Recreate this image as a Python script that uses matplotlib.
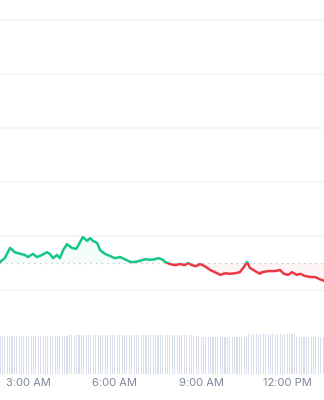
import numpy as np
import matplotlib.pyplot as plt
from matplotlib.patches import Rectangle

# price line (time of day, price)
times = ["02:00", "02:10", "02:21", "02:31", "02:42", "02:52", "02:58", "03:09",
         "03:17", "03:28", "03:38", "03:44", "03:51", "03:59", "04:05", "04:12",
         "04:20", "04:30", "04:39", "04:45", "04:53", "05:02", "05:08", "05:14",
         "05:23", "05:29", "05:39", "05:50", "06:00", "06:11", "06:21", "06:32",
         "06:42", "06:52", "07:03", "07:13", "07:24", "07:30", "07:38", "07:45",
         "07:55", "08:06", "08:16", "08:26", "08:33", "08:41", "08:49", "08:58",
         "09:08", "09:19", "09:29", "09:40", "09:50", "10:00", "10:11", "10:21",
         "10:30", "10:36", "10:42", "10:53", "11:03", "11:07", "11:20", "11:34",
         "11:45", "11:53", "12:02", "12:10", "12:20", "12:27", "12:37", "12:48",
         "12:58", "13:08", "13:17"]
prices = [0.9752, 0.9759, 0.9778, 0.9770, 0.9767, 0.9765, 0.9761, 0.9767,
          0.9761, 0.9765, 0.9770, 0.9767, 0.9759, 0.9765, 0.9759, 0.9774,
          0.9785, 0.9778, 0.9776, 0.9785, 0.9798, 0.9791, 0.9796, 0.9791,
          0.9787, 0.9774, 0.9767, 0.9763, 0.9759, 0.9761, 0.9757, 0.9752,
          0.9752, 0.9754, 0.9757, 0.9756, 0.9757, 0.9759, 0.9757, 0.9752,
          0.9748, 0.9746, 0.9748, 0.9746, 0.9750, 0.9746, 0.9744, 0.9748,
          0.9744, 0.9737, 0.9733, 0.9728, 0.9731, 0.9730, 0.9731, 0.9733,
          0.9743, 0.9752, 0.9741, 0.9735, 0.9730, 0.9733, 0.9735, 0.9735,
          0.9737, 0.9730, 0.9728, 0.9733, 0.9728, 0.9730, 0.9726, 0.9724,
          0.9724, 0.9720, 0.9717]
open_price = 0.9750

# volume, one bar every 5 minutes from 02:00
volume = [95, 94, 95, 96, 95, 94, 95, 95, 96, 95, 94, 95, 96, 96, 95, 95, 94, 95,
          96, 95, 95, 96, 95, 94, 95, 96, 96, 95, 95,
          97, 97, 98, 97, 97, 98, 97, 97, 97, 98, 98, 97, 97, 98, 97, 97, 98, 97,
          97, 98, 98, 97, 97, 97, 98, 97, 98, 97, 97, 98, 97, 97, 98, 97, 97, 98,
          98, 97, 97, 98, 97, 97, 97, 98, 97, 97, 98, 97, 97, 98, 97, 97, 96, 96, 95,
          93, 92, 92, 93, 92, 92, 92, 93, 92, 92, 92, 93, 92, 92, 92, 93, 92, 92, 93, 94,
          99, 99, 99, 100, 99, 99, 99, 99, 100, 99, 99, 99, 99, 100, 99, 99, 99, 99, 99, 99,
          93, 93, 92, 92, 93, 92, 92, 92, 93, 92, 92, 92]

tick_hours = [3, 6, 9, 12]
tick_labels = ["3:00 AM", "6:00 AM", "9:00 AM", "12:00 PM"]
grid_prices = [0.97, 0.98, 0.99, 1.00, 1.01, 1.02]

GREEN = "#16c784"
RED = "#ea3943"


def to_hours(s):
    h, m = s.split(":")
    return int(h) + int(m) / 60


x = np.array([to_hours(t) for t in times])
y = np.array(prices)
xv = 2 + np.arange(len(volume)) * 5 / 60

fig = plt.figure(figsize=(3.24, 4.0), dpi=100)

# price panel
ax = fig.add_axes([0, 0.25, 1, 0.75])
ax.set_xlim(2.0, 13.28)
ax.set_ylim(0.968148, 1.02371)
for g in grid_prices:
    ax.axhline(g, color="#f5f5f6", lw=1.3, zorder=0)
ax.axhline(open_price, color="#b9c0cc", lw=0.9, ls=(0, (1, 3.5)), zorder=1)

ax.fill_between(x, y, open_price, where=y >= open_price, interpolate=True,
                color=GREEN, alpha=0.05, lw=0)
ax.fill_between(x, y, open_price, where=y <= open_price, interpolate=True,
                color=RED, alpha=0.05, lw=0)

up, = ax.plot(x, y, color=GREEN, lw=1.8, zorder=3, solid_joinstyle="round")
dn, = ax.plot(x, y, color=RED, lw=1.8, zorder=3, solid_joinstyle="round")
up.set_clip_path(Rectangle((0, open_price), 30, 1, transform=ax.transData))
dn.set_clip_path(Rectangle((0, open_price - 1), 30, 1, transform=ax.transData))
ax.axis("off")

# volume panel
axv = fig.add_axes([0, 0.065, 1, 0.1])
axv.bar(xv, volume, width=5 / 60 * 0.45, color="#d8deea", lw=0)
axv.set_xlim(2.0, 13.28)
axv.set_ylim(0, 100)
axv.set_yticks([])
axv.set_xticks(tick_hours)
axv.set_xticklabels(tick_labels, fontsize=8, color="#7d879a", family="Inter")
axv.tick_params(length=0, pad=3)
for s in axv.spines.values():
    s.set_visible(False)

fig.savefig("out.png", dpi=100)
